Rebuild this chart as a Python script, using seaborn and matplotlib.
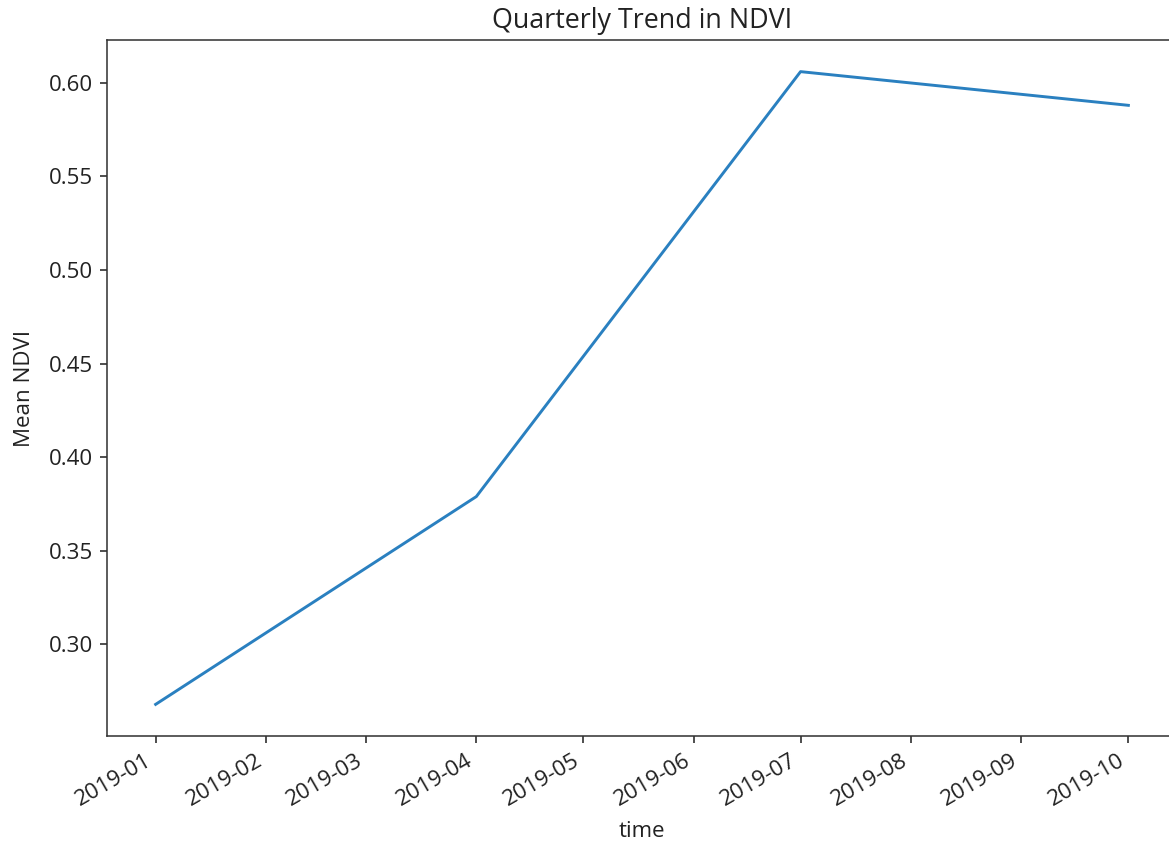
import numpy as np
import pandas as pd
import matplotlib
matplotlib.use("Agg")
import matplotlib.pyplot as plt
import seaborn as sns

# Quarterly mean NDVI
quarters = ["2019-01-01", "2019-04-01", "2019-07-01", "2019-10-01"]
mean_ndvi = [0.268, 0.379, 0.606, 0.588]

df = pd.DataFrame({"time": pd.to_datetime(quarters), "Mean NDVI": mean_ndvi})

plt.rcParams["font.family"] = ["Open Sans", "DejaVu Sans"]
plt.rcParams["font.size"] = 11.5
plt.rcParams["axes.titlesize"] = 13.8
text_color = "#222222"
plt.rcParams["text.color"] = text_color
plt.rcParams["axes.labelcolor"] = text_color
plt.rcParams["xtick.color"] = text_color
plt.rcParams["ytick.color"] = text_color
plt.rcParams["axes.edgecolor"] = "#333333"

dpi = 140.4
pos = [107 / 1170, 1 - 736 / 841, (1177 - 107) / 1170, (736 - 40) / 841]
fig = plt.figure(figsize=(1170 / dpi, 841 / dpi), dpi=dpi)
ax = fig.add_axes(pos)

sns.lineplot(data=df, x="time", y="Mean NDVI", ax=ax, color="#2a80c0", linewidth=1.5)

ax.set_title("Quarterly Trend in NDVI")
ax.set_xlabel("time", labelpad=5.5)
ax.set_ylabel("Mean NDVI", labelpad=7)
fig.autofmt_xdate()
ax.set_position(pos)

fig.savefig("out.png", dpi=dpi)
